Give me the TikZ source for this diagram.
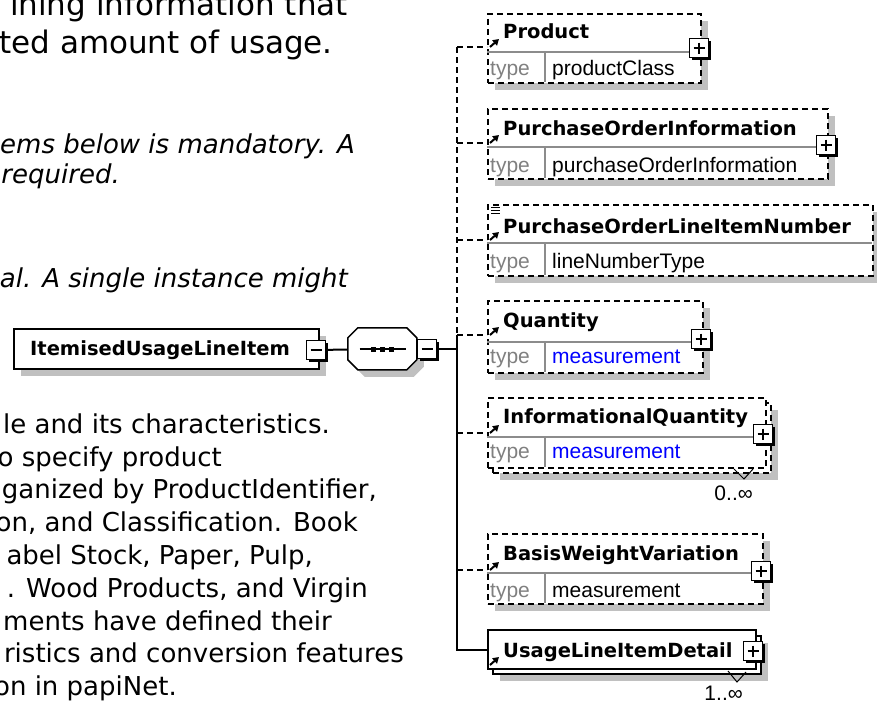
\documentclass[tikz,border=0pt]{standalone}
\usepackage{fontspec}
\setmainfont{DejaVu Sans}
\newfontfamily\arialfont{Liberation Sans}
\usepackage{tikz}
\usetikzlibrary{arrows.meta,positioning,calc,shadows}
\definecolor{shadowgray}{RGB}{192,192,192}
\definecolor{typegray}{RGB}{128,128,128}
\definecolor{sepgray}{RGB}{140,140,140}
\definecolor{typeblue}{RGB}{0,0,255}

\begin{document}
\begin{tikzpicture}[x=1pt,y=-1pt,>=Stealth]
\tikzset{box/.style={draw,line width=2pt,fill=white,anchor=north west,inner sep=0pt},
  dropgray/.style={drop shadow={shadow xshift=7pt,shadow yshift=-7pt,fill=shadowgray,opacity=1}},
  optbox/.style={box,dropgray,dash pattern=on 6pt off 4pt},reqbox/.style={box,dropgray},
  pmbox/.style={draw,line width=1.5pt,fill=white,minimum size=19pt,inner sep=0pt,
    drop shadow={shadow xshift=2.5pt,shadow yshift=-2.5pt,fill=black,opacity=1}},
  minusbox/.style={pmbox,path picture={\draw[line width=1.5pt] ($(path picture bounding box.west)+(4pt,0)$)--($(path picture bounding box.east)+(-4pt,0)$);}},
  plusbox/.style={pmbox,path picture={\draw[line width=1.5pt] ($(path picture bounding box.west)+(4pt,0)$)--($(path picture bounding box.east)+(-4pt,0)$)
    ($(path picture bounding box.north)+(0,-4pt)$)--($(path picture bounding box.south)+(0,4pt)$);}},
  lbl/.style={anchor=base west,inner sep=0pt,font=\bfseries\fontsize{19.5}{22}\selectfont},
  typekey/.style={anchor=base west,inner sep=0pt,font=\arialfont\fontsize{21}{24}\selectfont,text=typegray},
  typeval/.style={typekey,text=black},bluetype/.style={typekey,text=typeblue},
  occ/.style={anchor=base east,inner sep=0pt,font=\arialfont\fontsize{21}{24}\selectfont},
  sepln/.style={draw=sepgray,line width=2pt},optln/.style={line width=2pt,dash pattern=on 6pt off 4pt},reqln/.style={line width=2pt},
  refarr/.style={line width=2pt,-{Triangle[length=6pt,width=7pt]}},
  bigtxt/.style={anchor=base east,inner sep=0pt,font=\fontsize{31}{38}\selectfont},
  txt/.style={anchor=base east,inner sep=0pt,font=\fontsize{26}{32}\selectfont},ittxt/.style={txt,font=\itshape\fontsize{26}{32}\selectfont}}
\path[use as bounding box,fill=white] (0,0) rectangle (877,704);
\clip (0,0) rectangle (877,704);
% documentation text (cut at the left edge)
\node[bigtxt] (h1) at (348,15) {ining information that};\node[bigtxt] (h2) at (333,53) {ted amount of usage.};
\node[ittxt,anchor=base west] (n1) at (0,153) {ems below is mandatory. A};\node[ittxt] (n2) at (120,183) {required.};
\node[ittxt] (n3) at (348,287) {al. A single instance might};
\node[txt] (d1) at (330,433) {le and its characteristics.};\node[txt] (d2) at (222,466) {o specify product};
\node[txt] (d3) at (377,498) {ganized by ProductIdentifier,};\node[txt] (d4) at (358,531) {on, and Classification. Book};
\node[txt] (d5) at (313,564) {abel Stock, Paper, Pulp,};\node[txt] (d6) at (368,597) {. Wood Products, and Virgin};
\node[txt] (d7) at (332,630) {ments have defined their};\node[txt] (d8) at (404,662) {ristics and conversion features};
\node[txt] (d9) at (177,695) {on in papiNet.};
% root element and sequence
\node[reqbox,minimum width=305pt,minimum height=40pt] (iuli) at (13,328) {};
\node[lbl] (iuli-l) at (30,355) {ItemisedUsageLineItem};
\node[minusbox] (iuli-m) at (316,350) {};
\node[minimum width=69pt,minimum height=42pt,inner sep=0pt] (seq) at (382.5,349) {};
\fill[shadowgray] ($(seq.north west)+(17,7)$) --++(49,0) --++(10,10) --++(0,22) --++(-10,10) --++(-49,0) --++(-10,-10) --++(0,-22) --cycle;
\filldraw[fill=white,line width=1.5pt] ($(seq.north west)+(10,0)$) --++(49,0) --++(10,10) --++(0,22) --++(-10,10) --++(-49,0) --++(-10,-10) --++(0,-22) --cycle;
\draw[line width=1.5pt] ([xshift=-23pt]seq.center)--([xshift=23pt]seq.center);
\foreach \d in {-9,0,9} \fill ([xshift=\d pt]seq.center) ++(-2.5,-2.5) rectangle ++(5,5);
\node[minusbox] (seq-m) at (427,349) {};
\coordinate (trunk) at (457,349);
\draw[reqln] (iuli-m)--(seq);\draw[reqln] (seq-m)--(trunk);
% children
\node[optbox,minimum width=213pt,minimum height=69pt] (prod) at (487,13) {};
\draw[sepln] (487,52)--(700,52) (545,52)--(545,82);
\node[lbl] (prod-l) at (503,38) {Product};\node[typekey] (prod-k) at (490,75) {type};\node[typeval] (prod-t) at (552,75) {productClass};
\node[plusbox] (prod-x) at (699,48) {};
\node[optbox,minimum width=340pt,minimum height=70pt] (poi) at (487,108) {};
\draw[sepln] (487,147)--(827,147) (545,147)--(545,178);
\node[lbl] (poi-l) at (503,135) {PurchaseOrderInformation};\node[typekey] (poi-k) at (490,172) {type};\node[typeval] (poi-t) at (552,172) {purchaseOrderInformation};
\node[plusbox] (poi-x) at (826,145) {};
\node[optbox,minimum width=385pt,minimum height=71pt] (polin) at (487,204) {};
\draw[sepln] (487,243)--(872,243) (545,243)--(545,275);
\draw[line width=1pt] (491,207)--(500,207) (491,210)--(500,210) (491,213)--(500,213);
\node[lbl] (polin-l) at (503,233) {PurchaseOrderLineItemNumber};\node[typekey] (polin-k) at (490,268) {type};\node[typeval] (polin-t) at (552,268) {lineNumberType};
\node[optbox,minimum width=215pt,minimum height=72pt] (qty) at (487,300) {};
\draw[sepln] (487,342)--(702,342) (545,342)--(545,372);
\node[lbl] (qty-l) at (503,327) {Quantity};\node[typekey] (qty-k) at (490,363) {type};\node[bluetype] (qty-t) at (552,363) {measurement};
\node[plusbox] (qty-x) at (701,339) {};
\node[optbox,minimum width=278pt,minimum height=70pt] (infoq-b) at (492,402) {};
\node[box,dash pattern=on 6pt off 4pt,minimum width=278pt,minimum height=70pt] (infoq) at (487,397) {};
\draw[sepln] (487,437)--(765,437) (545,437)--(545,467);
\node[lbl] (infoq-l) at (503,423) {InformationalQuantity};\node[typekey] (infoq-k) at (490,458) {type};\node[bluetype] (infoq-t) at (552,458) {measurement};
\node[plusbox] (infoq-x) at (763,434) {};
\draw[line width=1pt] (734,469)--(744,479)--(753,469);
\node[occ] (infoq-o) at (753,500) {0..∞};
\node[optbox,minimum width=275pt,minimum height=70pt] (bwv) at (487,533) {};
\draw[sepln] (487,573)--(762,573) (545,573)--(545,603);
\node[lbl] (bwv-l) at (503,560) {BasisWeightVariation};\node[typekey] (bwv-k) at (490,597) {type};\node[typeval] (bwv-t) at (552,597) {measurement};
\node[plusbox] (bwv-x) at (761,571) {};
\node[reqbox,minimum width=268pt,minimum height=38pt] (usage-b) at (492,635) {};
\node[box,minimum width=268pt,minimum height=39pt] (usage) at (487,629) {};
\node[lbl] (usage-l) at (503,657) {UsageLineItemDetail};
\node[plusbox] (usage-x) at (753,651) {};
\draw[line width=1pt] (728,671)--(737,682)--(746,672);
\node[occ] (usage-o) at (743,700) {1..∞};
% connectors
\coordinate (prod-in) at (487,47);\coordinate (poi-in) at (487,143);\coordinate (polin-in) at (487,240);
\coordinate (qty-in) at (487,335);\coordinate (infoq-in) at (487,433);\coordinate (bwv-in) at (487,570);\coordinate (usage-in) at (487,650);
\draw[optln] (trunk|-prod-in)--(trunk|-qty-in);\draw[reqln] (trunk|-qty-in)--(trunk|-usage-in)--(usage-in);
\foreach \c in {prod,poi,polin,qty,infoq,bwv} {\draw[optln] (trunk|-\c-in)--(\c-in);\draw[refarr] (\c-in) ++(3,0)--++(9,-8);}
\draw[refarr] (usage-in) ++(3,15)--++(9,-8);
\end{tikzpicture}
\end{document}
